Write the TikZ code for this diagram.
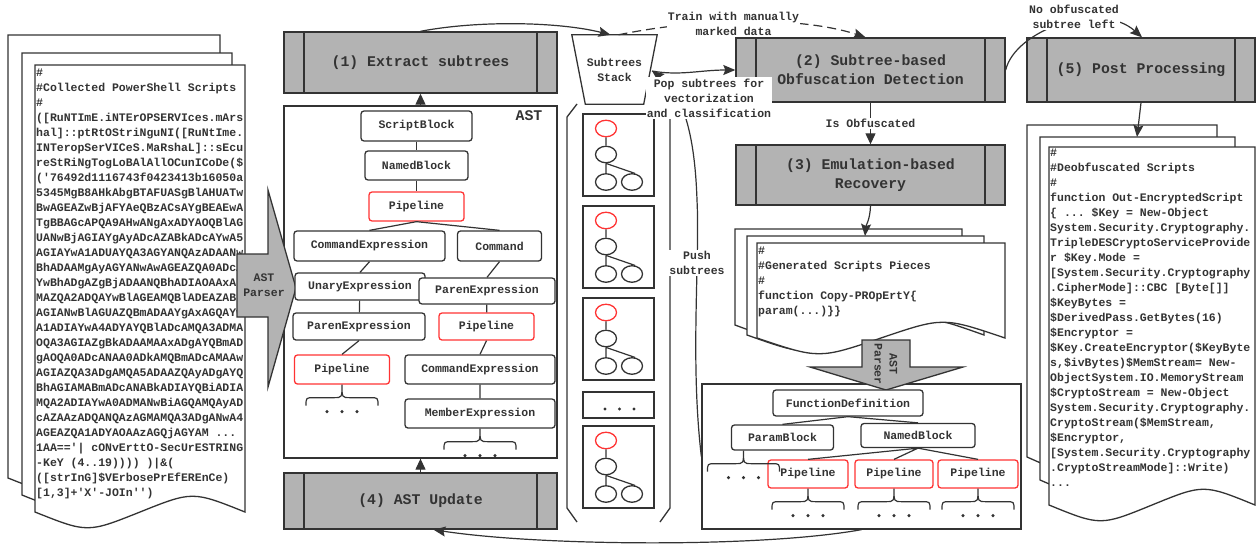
\documentclass[tikz,border=0pt]{standalone}
\usepackage{fontspec}
\setmonofont{Liberation Mono}
\usetikzlibrary{arrows.meta,calc,shapes.geometric}

\definecolor{boxgray}{HTML}{B3B3B3}
\definecolor{linegray}{HTML}{333333}
\definecolor{redline}{HTML}{FF3333}
\newcommand\codesmall{\ttfamily\bfseries\fontsize{11.5}{15}\selectfont}
\newcommand\codebig{\ttfamily\bfseries\fontsize{14.8}{19.2}\selectfont}

% page of a document, wavy bottom edge
\def\docpage(#1,#2,#3,#4){\draw[docline] (#1,#2) -- (#3,#2) -- (#3,#4) .. controls ({#3-(#3-#1)/4},{#4-21}) .. ({(#1+#3)/2},#4) .. controls ({#1+(#3-#1)/4},{#4+21}) .. (#1,#4) -- cycle;}
% curly brace under a node, with three dots
\def\dotsbrace(#1){\coordinate (bt) at (#1);
	\draw[conn] ($(bt)+(-36,21)$) .. controls ($(bt)+(-36,13)$) .. ($(bt)+(-28,13)$) -- ($(bt)+(-8,13)$) .. controls ($(bt)+(0,13)$) .. (bt) .. controls ($(bt)+(0,13)$) .. ($(bt)+(8,13)$) -- ($(bt)+(28,13)$) .. controls ($(bt)+(36,13)$) .. ($(bt)+(36,21)$);
	\foreach \dx in {-15,0,15} \fill[linegray] ($(bt)+(\dx,27)$) circle (1.7pt);}
% one subtree in the stack
\def\stacktree#1#2{\node[boxframe, minimum width=71pt, minimum height=82pt] (#1) at (618.5,{#2+41}) {};
	\node[subnode, draw=redline] (#1r) at (606,{#2+14.5}) {};
	\node[subnode] (#1m) at (606,{#2+40.5}) {};
	\node[subnode] (#1a) at (606,{#2+68}) {};
	\node[subnode] (#1b) at (632,{#2+68}) {};
	\draw[conn] (#1r) -- (#1m) (#1m) -- (#1a) (#1m.south) -- (#1b.70);}

\begin{document}
\begin{tikzpicture}[x=1pt,y=-1pt,
	docline/.style={draw=linegray, fill=white, line width=1.3pt},
	doctext/.style={font=\codesmall, text=linegray, align=left, inner sep=0pt, anchor=base west},
	procbox/.style={draw=linegray, fill=boxgray, line width=1.4pt, text=linegray, font=\codebig, align=center, inner sep=0pt,
		path picture={\draw[linegray, line width=1.4pt] ([xshift=20pt]path picture bounding box.north west) -- ([xshift=20pt]path picture bounding box.south west) ([xshift=-20pt]path picture bounding box.north east) -- ([xshift=-20pt]path picture bounding box.south east);}},
	boxframe/.style={draw=linegray, fill=white, line width=1.3pt, inner sep=0pt},
	astnode/.style={draw=linegray, fill=white, rounded corners=3pt, line width=1.3pt, font=\codesmall, text=linegray, inner sep=0pt},
	redast/.style={astnode, draw=redline},
	subnode/.style={ellipse, draw=linegray, line width=1.3pt, minimum width=21pt, minimum height=16.5pt, inner sep=0pt},
	conn/.style={draw=linegray, line width=1.2pt},
	tipflow/.style={conn, -{Triangle[length=11pt,width=10pt]}},
	flow/.style={conn, -{Stealth[length=12pt,width=10pt,inset=2pt]}},
	lbl/.style={fill=white, font=\codesmall, text=linegray, align=center, inner sep=1.2pt},
	blockarrow/.style={draw=linegray, fill=boxgray, line width=1.3pt, line join=miter},
	]
	\useasboundingbox (0,0) rectangle (1256,544);
	%%%%% collected scripts %%%%%
	\docpage(8,35,220,478)
	\docpage(22,53,232,495)
	\docpage(35,65,245,512)
	% base of the text node = last line
	\node[doctext] (srctext) at (36,496.5) {\#\\
		\#Collected PowerShell Scripts\\
		\#\\
		([RuNTImE.iNTErOPSERVIces.mArs\\
		hal]::ptRtOStriNguNI([RuNtIme.\\
		INTeropSerVICeS.MaRshaL]::sEcu\\
		reStRiNgTogLoBAlAllOCunICoDe(\$\\
		('76492d1116743f0423413b16050a\\
		5345MgB8AHkAbgBTAFUASgBlAHUATw\\
		BwAGEAZwBjAFYAeQBzACsAYgBEAEwA\\
		TgBBAGcAPQA9AHwANgAxADYAOQBlAG\\
		UANwBjAGIAYgAyADcAZABkADcAYwA5\\
		AGIAYwA1ADUAYQA3AGYANQAzADAANw\\
		BhADAAMgAyAGYANwAwAGEAZQA0ADcA\\
		YwBhADgAZgBjADAANQBhADIAOAAxAD\\
		MAZQA2ADQAYwBlAGEAMQBlADEAZABh\\
		AGIANwBlAGUAZQBmADAAYgAxAGQAYw\\
		A1ADIAYwA4ADYAYQBlADcAMQA3ADMA\\
		OQA3AGIAZgBkADAAMAAxADgAYQBmAD\\
		gAOQA0ADcANAA0ADkAMQBmADcAMAAw\\
		AGIAZQA3ADgAMQA5ADAAZQAyADgAYQ\\
		BhAGIAMABmADcANABkADIAYQBiADIA\\
		MQA2ADIAYwA0ADMANwBiAGQAMQAyAD\\
		cAZAAzADQANQAzAGMAMQA3ADgANwA4\\
		AGEAZQA1ADYAOAAzAGQjAGYAM ...\\
		1AA=='| cONvErttO-SecUrESTRING\\
		-KeY (4..19)))) )|\&(\\
		([strInG]\$VErbosePrEfEREnCe)\\
		{}[1,3]+'X'-JOIn'')};
	
	%%%%% AST %%%%%
	\node[boxframe, minimum width=273pt, minimum height=352pt] (astframe) at (420.5,282) {};
	\node[font=\codebig, text=linegray] (astlabel) at (529,116) {AST};
	\draw[blockarrow] (237,254) -- (268,254) -- (268,190) -- (296,288) -- (268,387) -- (268,317) -- (237,317) -- cycle;
	\node[font=\codesmall, text=linegray, align=center] (parser1) at (264,285) {AST\\Parser};
	
	\node[astnode, minimum width=111pt, minimum height=30pt] (scriptblk) at (416.5,126) {ScriptBlock};
	\node[astnode, minimum width=103pt, minimum height=29pt] (namedblk) at (416.5,165.5) {NamedBlock};
	\node[redast, minimum width=95pt, minimum height=29pt] (pipe1) at (416.5,206.5) {Pipeline};
	\node[astnode, minimum width=151pt, minimum height=30pt] (cmdexpr1) at (369.5,246) {CommandExpression};
	\node[astnode, minimum width=84pt, minimum height=30pt] (cmd) at (499.5,246) {Command};
	\node[astnode, minimum width=130pt, minimum height=27pt] (unary) at (360,286.5) {UnaryExpression};
	\node[astnode, minimum width=136pt, minimum height=26pt] (paren2) at (487,291) {ParenExpression};
	\node[astnode, minimum width=132pt, minimum height=27pt] (paren1) at (359,326.5) {ParenExpression};
	\node[redast, minimum width=95pt, minimum height=27pt] (pipeR) at (486.5,326.5) {Pipeline};
	\node[redast, minimum width=95pt, minimum height=29pt] (pipeL) at (342,369.5) {Pipeline};
	\node[astnode, minimum width=150pt, minimum height=29pt] (cmdexpr2) at (480,369.5) {CommandExpression};
	\node[astnode, minimum width=150pt, minimum height=29pt] (memberexpr) at (480,413.5) {MemberExpression};
	
	\draw[conn] (scriptblk) -- (namedblk) (namedblk) -- (pipe1);
	\draw[conn] (pipe1.south) -- (cmdexpr1.north) (pipe1.south) -- (cmd.north);
	\draw[conn] (cmdexpr1.south) -- (unary.north) (cmd.south) -- (paren2.north);
	\draw[conn] (unary) -- (paren1) (paren1.south) -- (pipeL.north);
	\draw[conn] (paren2) -- (pipeR) (pipeR.south) -- (cmdexpr2.north) (cmdexpr2) -- (memberexpr);
	\dotsbrace(pipeL.south)
	\dotsbrace(memberexpr.south)
	
	\node[procbox, minimum width=273pt, minimum height=61pt] (extract) at (420.5,62.5) {(1) Extract subtrees};
	\node[procbox, minimum width=273pt, minimum height=56pt] (update) at (420.5,501) {(4) AST Update};
	\draw[tipflow] (astframe.north) -- (extract.south);
	\draw[tipflow] (update.north) -- (astframe.south);
	
	%%%%% stack %%%%%
	\draw[conn, line width=1.3pt] (577,104) -- (567,117) -- (567,508) -- (577,522);
	\draw[conn, line width=1.3pt] (661,104) -- (670,117) -- (670,508) -- (660,522);
	\node[font=\codesmall, text=linegray, align=center, minimum width=85pt, minimum height=69pt, inner sep=0pt] (stack) at (614.5,69.5) {Subtrees\\Stack};
	\draw[conn, line width=1.3pt] (stack.north west) -- (stack.north east) -- ([xshift=-13.5pt]stack.south east) -- ([xshift=13.5pt]stack.south west) -- cycle;
	\coordinate (stackport) at (652,71);
	
	\stacktree{st1}{114}
	\stacktree{st2}{206}
	\stacktree{st3}{298}
	\node[boxframe, minimum width=71pt, minimum height=26pt] (stdots) at (618.5,405) {};
	\foreach \x in {605,619.5,634} \fill[linegray] (\x,409) circle (1.7pt);
	\stacktree{st4}{426}
	
	%%%%% detection, recovery, post processing %%%%%
	\node[procbox, minimum width=269pt, minimum height=64pt] (detect) at (870.5,70) {(2) Subtree-based\\Obfuscation Detection};
	\node[procbox, minimum width=269pt, minimum height=60pt] (recover) at (870.5,175) {(3) Emulation-based\\Recovery};
	\node[procbox, minimum width=228pt, minimum height=64pt] (post) at (1141,70) {(5) Post Processing};
	
	\docpage(735,229,962,325)
	\docpage(747,236,984,335)
	\docpage(757,243,1005,338)
	\node[doctext] (gentext) at (758,314.5) {\#\\
		\#Generated Scripts Pieces\\
		\#\\
		function Copy-PROpErtY\{\\
		param(...)\}\}};
	\coordinate (genin) at (865,236);
	
	\node[boxframe, minimum width=319pt, minimum height=145pt] (newast) at (861.5,456.5) {};
	\draw[blockarrow] (862,340) -- (910,340) -- (910,367) -- (963,367) -- (886,390) -- (810,367) -- (862,367) -- cycle;
	\node[font=\codesmall, text=linegray, align=center, rotate=-90] (parser2) at (886,364) {AST\\Parser};
	
	\node[astnode, minimum width=150pt, minimum height=26pt] (fundef) at (848,403) {FunctionDefinition};
	\node[astnode, minimum width=102pt, minimum height=25pt] (paramblk) at (782.5,437.5) {ParamBlock};
	\node[astnode, minimum width=114pt, minimum height=24pt] (namedblk2) at (918,435.5) {NamedBlock};
	\node[redast, minimum width=80pt, minimum height=28pt] (pipe4) at (808,474) {Pipeline};
	\node[redast, minimum width=78pt, minimum height=28pt] (pipe5) at (894,474) {Pipeline};
	\node[redast, minimum width=80pt, minimum height=28pt] (pipe6) at (978,474) {Pipeline};
	\draw[conn] (fundef.south) -- (paramblk.north) (fundef.south) -- (namedblk2.north);
	\draw[conn] (namedblk2.south) -- (pipe4.north) (namedblk2.south) -- (pipe5.north) (namedblk2.south) -- (pipe6.north);
	\dotsbrace([xshift=-39pt]paramblk.south)
	\dotsbrace(pipe4.south)
	\dotsbrace(pipe5.south)
	\dotsbrace(pipe6.south)
	
	%%%%% deobfuscated scripts %%%%%
	\docpage(1027,125,1217,457)
	\docpage(1040,137,1235,480)
	\docpage(1049,147,1255,505)
	\node[doctext] (deobftext) at (1050,486.5) {\#\\
		\#Deobfuscated Scripts\\
		\#\\
		function Out-EncryptedScript\\
		\{ ... \$Key = New-Object\\
		System.Security.Cryptography.\\
		TripleDESCryptoServiceProvide\\
		r \$Key.Mode =\\
		{}[System.Security.Cryptography\\
		.CipherMode]::CBC [Byte[]]\\
		\$KeyBytes =\\
		\$DerivedPass.GetBytes(16)\\
		\$Encryptor =\\
		\$Key.CreateEncryptor(\$KeyByte\\
		s,\$ivBytes)\$MemStream= New-\\
		ObjectSystem.IO.MemoryStream\\
		\$CryptoStream = New-Object\\
		System.Security.Cryptography.\\
		CryptoStream(\$MemStream,\\
		\$Encryptor,\\
		{}[System.Security.Cryptography\\
		.CryptoStreamMode]::Write)\\
		...};
	\coordinate (deobfin) at (1137,137);
	
	%%%%% connectors %%%%%
	\draw[flow] (extract.north) .. controls (480,20) and (560,22) .. ([xshift=-4pt]stack.north);
	\draw[flow, dash pattern=on 9pt off 5pt] ([xshift=4pt]stack.north) .. controls (700,18) and (800,16) .. ([xshift=-5pt]detect.north);
	\draw[flow] (stackport) .. controls (680,76) and (700,70) .. (detect.west);
	\draw[flow] (newast.west) .. controls (690,360) and (700,260) .. (697,200) .. controls (695,140) and (685,95) .. (stackport);
	\draw[flow] (newast.south) .. controls (760,548) and (540,546) .. ([xshift=13pt]update.south);
	\draw[tipflow] (detect.south) -- node[lbl] (isobf) {Is Obfuscated} (recover.north);
	\draw[flow] (recover.south) .. controls (870,220) and (866,225) .. (genin);
	\draw[flow] (detect.east) .. controls (1015,30) and (1100,0) .. ([xshift=1pt]post.north);
	\draw[flow] (post.south) -- (deobfin);
	
	\node[lbl] (trainlbl) at (733.5,24) {Train with manually\\marked data};
	\node[lbl] (noobflbl) at (1074,17) {No obfuscated\\subtree left};
	\node[lbl] (poplbl) at (709,98) {Pop subtrees for\\vectorization\\and classification};
	\node[lbl] (pushlbl) at (697,263) {Push\\subtrees};
\end{tikzpicture}
\end{document}
